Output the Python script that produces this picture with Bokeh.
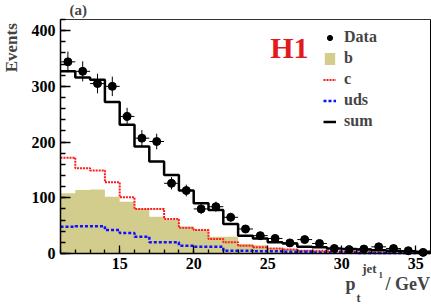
import math
import numpy as np
from bokeh.plotting import figure
from bokeh.models import FixedTicker, Label, Legend, LegendItem, Range1d, LinearAxis
from bokeh.embed import file_html
from bokeh.resources import INLINE

# ---- data (bins of 1 GeV from 11 to 36 GeV) ----
bin_low = 11
bin_width = 1
data_counts = [344, 327, 305, 300, 246, 207, 201, 126, 113, 80, 84, 65, 44,
               32, 27, 19, 25, 18, 9, 7, 8, 12, 9, 5, 2]
data_err = [18.5, 18, 17.5, 17.5, 15.5, 14.5, 14, 11, 10.5, 9, 9, 8, 6.5,
            5.5, 5, 4.5, 5, 4, 3, 2.5, 3, 3.5, 3, 2, 1.5]
b_vals = [108, 114, 115, 102, 93, 80, 66, 60, 48, 42, 30, 30, 17,
          15, 10, 8, 6, 5, 4, 3, 3, 2, 2, 1, 1]
c_vals = [172, 153, 149, 128, 101, 80, 80, 62, 46, 42, 26, 20, 14,
          11, 9, 7, 5, 5, 4, 3, 3, 2, 2, 1, 1]
uds_vals = [48, 49, 49, 42, 37, 30, 20, 20, 14, 12, 12, 5, 5,
            4, 4, 3, 3, 2, 2, 2, 1, 1, 1, 1, 1]
sum_vals = [327, 316, 312, 272, 231, 192, 165, 141, 113, 90, 78, 53, 32,
            27, 20, 18, 12, 11, 9, 8, 7, 6, 5, 4, 3]
y_ticks = [0, 100, 200, 300, 400]
x_ticks = [15, 20, 25, 30, 35]

FONT = "Liberation Serif"

# plot window in data units, and the canvas extents around it
X0, X1, Y0, Y1 = 11, 36, 0, 420
W, H = 431, 306
FL, FR, FT, FB = 60, 430, 19, 253          # pixel box of the plotting area
sx = (FR - FL) / (X1 - X0)
sy = (FB - FT) / (Y1 - Y0)
x_range = Range1d(X0 - FL / sx, X1 + (W - FR) / sx)
y_range = Range1d(Y0 - (H - FB) / sy, Y1 + FT / sy)

n = len(data_counts)
edges = bin_low + bin_width * np.arange(n + 1)
centers = edges[:-1] + bin_width / 2.0

p = figure(width=W, height=H, output_backend="svg", toolbar_location=None,
           x_range=x_range, y_range=y_range, min_border=0)
p.title.visible = False
p.xgrid.visible = False
p.ygrid.visible = False
p.background_fill_color = "white"
p.border_fill_color = "white"
p.outline_line_color = None

def ext(v):
    return list(v) + [v[-1]]

r_b = p.varea_step(x=edges, y1=np.zeros(n + 1), y2=ext(b_vals), step_mode="after",
                   fill_color="#d2cd8c")
r_c = p.step(x=edges, y=ext(c_vals), mode="after", line_color="#ff1a1a",
             line_width=2, line_dash="2 1")
r_uds = p.step(x=edges, y=ext(uds_vals), mode="after", line_color="#1010ff",
               line_width=2.5, line_dash="3 2")
r_sum = p.step(x=edges, y=ext(sum_vals), mode="after", line_color="black",
               line_width=2.5)

lo = [d - e for d, e in zip(data_counts, data_err)]
hi = [d + e for d, e in zip(data_counts, data_err)]
p.segment(x0=centers, y0=lo, x1=centers, y1=hi, line_color="black", line_width=1)
p.segment(x0=edges[:-1], y0=data_counts, x1=edges[1:], y1=data_counts,
          line_color="black", line_width=1)
r_data = p.scatter(x=centers, y=data_counts, size=8, marker="circle",
                   fill_color="black", line_color="black")

# axes, pinned to the plotting box
p.yaxis.ticker = FixedTicker(ticks=y_ticks, minor_ticks=list(range(0, 421, 20)))
p.xaxis.ticker = FixedTicker(ticks=x_ticks, minor_ticks=list(range(11, 37)))
p.xaxis.fixed_location = Y0
p.yaxis.fixed_location = X0
p.xaxis.bounds = (X0, X1)
p.yaxis.bounds = (Y0, Y1)
for ax in (p.xaxis[0], p.yaxis[0]):
    ax.axis_line_color = "black"
    ax.axis_line_width = 1.5
    ax.major_tick_out = 0
    ax.minor_tick_out = 0
    ax.major_tick_line_color = "black"
    ax.minor_tick_line_color = "black"
    ax.major_tick_line_width = 1.3
    ax.minor_tick_line_width = 1.3
    ax.major_label_text_font = FONT
    ax.major_label_text_font_style = "bold"
    ax.major_label_text_font_size = "16px"
    ax.major_label_text_color = "black"
p.yaxis.major_tick_in = 10
p.yaxis.minor_tick_in = 5
p.xaxis.major_tick_in = 8
p.xaxis.minor_tick_in = 4
p.yaxis.major_label_standoff = 5
p.xaxis.major_label_standoff = 4

# frame lines on top and right
top_ax = LinearAxis(fixed_location=Y1, bounds=(X0, X1), ticker=FixedTicker(ticks=[]),
                    axis_line_color="#333333", axis_line_width=1,
                    major_tick_in=0, major_tick_out=0, minor_tick_in=0, minor_tick_out=0,
                    major_label_text_font_size="0px")
right_ax = LinearAxis(fixed_location=X1, bounds=(Y0, Y1), ticker=FixedTicker(ticks=[]),
                      axis_line_color="black", axis_line_width=1,
                      major_tick_in=0, major_tick_out=0, minor_tick_in=0, minor_tick_out=0,
                      major_label_text_font_size="0px")
p.add_layout(top_ax, "above")
p.add_layout(right_ax, "right")

# legend
legend = Legend(items=[
    LegendItem(label="Data", renderers=[r_data]),
    LegendItem(label="b", renderers=[r_b]),
    LegendItem(label="c", renderers=[r_c]),
    LegendItem(label="uds", renderers=[r_uds]),
    LegendItem(label="sum", renderers=[r_sum]),
], location=(323, 176), label_text_font=FONT, label_text_font_style="bold",
    label_text_font_size="16px", glyph_width=13, glyph_height=15,
    label_height=15, label_standoff=8, spacing=3, padding=0, margin=0,
    border_line_color=None, background_fill_alpha=0)
p.add_layout(legend)

def lab(x, y, text, size, **kw):
    p.add_layout(Label(x=x, y=y, text=text, text_font=FONT, text_font_style="bold",
                       text_font_size=size, **kw))

lab(25.17, 339.8, "H1", "30px", text_color="#e21a1c")
lab(11.61, 452.3, "(a)", "15px", text_baseline="top")
lab(7.08, 413.4, "Events", "17px", angle=math.pi / 2, text_align="right",
    text_baseline="top")
lab(30.26, -71.8, "p", "18px")
lab(31.0, -92.4, "t", "12px")
lab(31.39, -40.4, "jet", "13px")
lab(32.49, -43.1, "1", "9px")
lab(32.96, -71.8, "/ GeV", "18px")

open("out.html", "w").write(file_html(p, INLINE))
